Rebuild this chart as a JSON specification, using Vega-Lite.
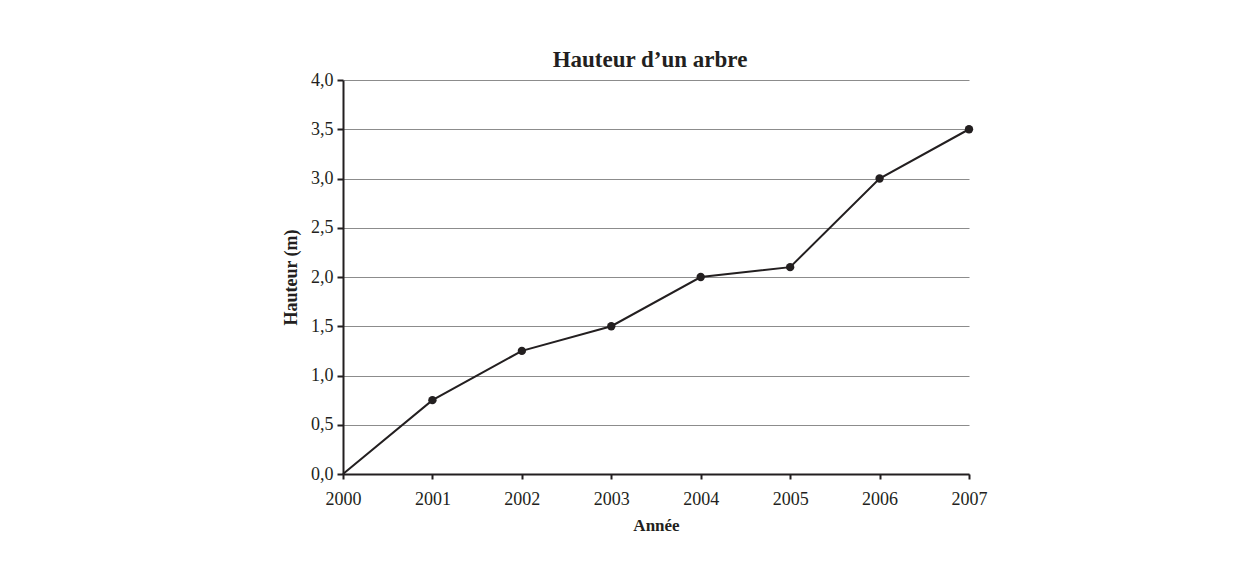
{
  "$schema": "https://vega.github.io/schema/vega-lite/v6.json",
  "autosize": {"type": "none"},
  "padding": {"left": 343, "top": 80, "right": 277, "bottom": 95},
  "width": 626,
  "height": 394,
  "background": "white",
  "title": {
    "text": "Hauteur d’un arbre",
    "font": "Liberation Serif",
    "fontSize": 23,
    "fontWeight": "bold",
    "color": "#231f20",
    "anchor": "middle",
    "offset": -1,
    "dx": -6
  },
  "config": {
    "view": {"stroke": null},
    "font": "Liberation Serif"
  },
  "data": {
    "values": [
      {"annee": 2000, "hauteur": 0},
      {"annee": 2001, "hauteur": 0.75},
      {"annee": 2002, "hauteur": 1.25},
      {"annee": 2003, "hauteur": 1.5},
      {"annee": 2004, "hauteur": 2.0},
      {"annee": 2005, "hauteur": 2.1},
      {"annee": 2006, "hauteur": 3.0},
      {"annee": 2007, "hauteur": 3.5}
    ]
  },
  "encoding": {
    "x": {
      "field": "annee",
      "type": "quantitative",
      "scale": {"domain": [2000, 2007], "nice": false, "zero": false},
      "axis": {
        "title": "Année",
        "values": [2000, 2001, 2002, 2003, 2004, 2005, 2006, 2007],
        "format": "d",
        "grid": false,
        "labelFlush": false,
        "labelOverlap": false,
        "domainColor": "#231f20",
        "domainWidth": 2,
        "tickColor": "#231f20",
        "tickWidth": 2,
        "tickSize": 5,
        "labelFont": "Liberation Serif",
        "labelFontSize": 18,
        "labelColor": "#231f20",
        "labelPadding": 11,
        "titleFont": "Liberation Serif",
        "titleFontSize": 17,
        "titleFontWeight": "bold",
        "titleColor": "#231f20",
        "titlePadding": 9
      }
    },
    "y": {
      "field": "hauteur",
      "type": "quantitative",
      "scale": {"domain": [0, 4], "nice": false},
      "axis": {
        "title": "Hauteur (m)",
        "values": [0, 0.5, 1, 1.5, 2, 2.5, 3, 3.5, 4],
        "format": ".1f",
        "labelExpr": "replace(datum.label, '.', ',')",
        "grid": true,
        "gridColor": "#8c8c8c",
        "gridWidth": 1,
        "domainColor": "#231f20",
        "domainWidth": 2,
        "tickColor": "#231f20",
        "tickWidth": 2,
        "tickSize": 6,
        "labelFont": "Liberation Serif",
        "labelFontSize": 18,
        "labelColor": "#231f20",
        "labelPadding": 4,
        "titleFont": "Liberation Serif",
        "titleFontSize": 18,
        "titleFontWeight": "bold",
        "titleColor": "#231f20",
        "titlePadding": 10
      }
    }
  },
  "layer": [
    {
      "mark": {"type": "line", "color": "#231f20", "strokeWidth": 2}
    },
    {
      "transform": [{"filter": "datum.annee > 2000"}],
      "mark": {"type": "point", "filled": true, "color": "#231f20", "size": 70, "opacity": 1}
    }
  ]
}
